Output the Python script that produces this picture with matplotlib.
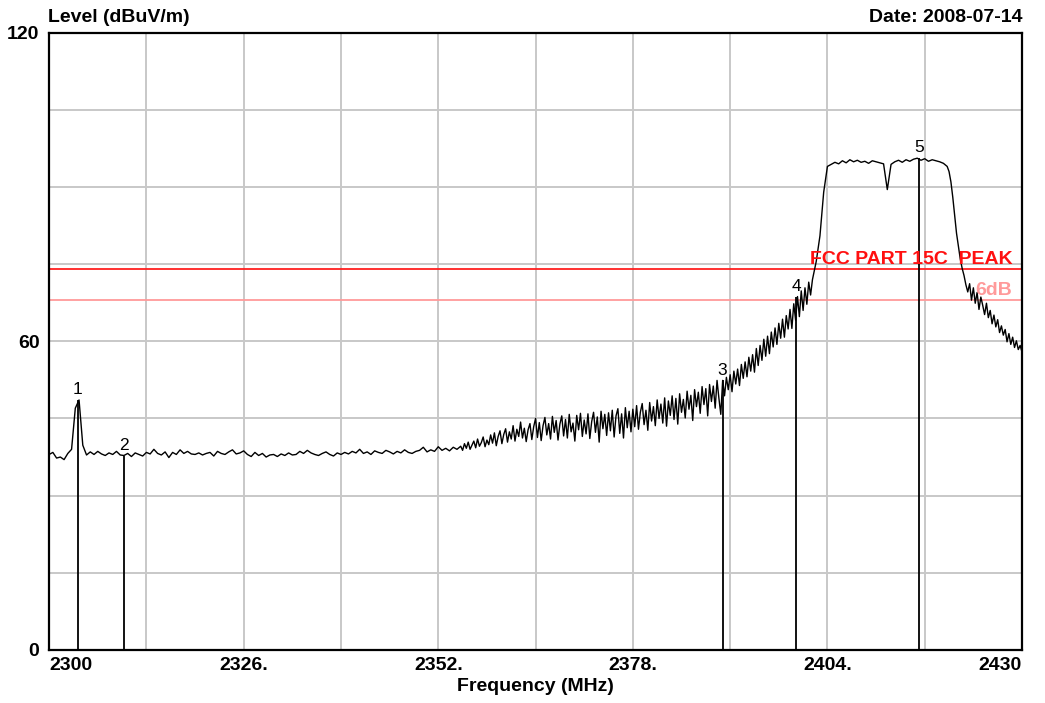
"""
Radiated emission scan 2300-2430 MHz with FCC Part 15C peak limit.
Writes out.png.
"""

import matplotlib
matplotlib.use("Agg")
import matplotlib.pyplot as plt
import numpy as np

plt.rcParams.update({"font.family": ["Liberation Sans", "DejaVu Sans"]})

# sweep levels in dBuV/m
# 2300.0 - 2354.5 MHz, 0.5 MHz steps
level_2300_2354 = [
    38.0, 38.4, 37.3, 37.5, 37.0, 38.2, 39.0, 47.0, 48.6, 39.8,
    37.9, 38.5, 38.0, 38.6, 38.1, 37.8, 38.3, 38.0, 38.6, 37.9,
    37.8, 38.2, 37.6, 38.3, 38.0, 37.7, 38.4, 38.1, 39.0, 38.2,
    37.9, 38.5, 37.4, 38.4, 38.0, 38.9, 38.2, 38.6, 38.1, 38.0,
    38.3, 37.9, 38.2, 38.4, 37.7, 38.6, 38.2, 38.0, 38.5, 38.9,
    38.1, 38.3, 38.7, 38.0, 37.6, 38.4, 37.8, 38.2, 37.5, 37.9,
    38.0, 37.6, 38.1, 37.8, 38.3, 37.9, 38.0, 38.6, 38.2, 38.8,
    38.3, 38.0, 37.8, 38.2, 38.5, 38.0, 37.7, 38.3, 38.0, 38.4,
    38.1, 38.6, 38.3, 39.0, 38.2, 38.5, 38.0, 38.7, 38.4, 38.2,
    38.8, 38.5, 38.1, 38.6, 38.3, 38.9, 38.4, 38.2, 38.6, 38.8,
    39.4, 38.5, 38.9, 38.6, 39.5, 38.8, 39.2, 38.7, 39.4, 39.0,
]
# 2355.00 - 2377.75 MHz, 0.25 MHz steps
level_2355_2377 = [
    39.6, 38.8, 40.1, 39.2, 40.4, 39.0, 39.8, 40.6, 39.3, 41.0,
    39.6, 40.3, 41.4, 39.5, 40.8, 39.9, 41.8, 40.2, 42.2, 39.7,
    41.5, 42.6, 40.1, 41.9, 43.0, 40.4, 42.4, 41.0, 43.6, 40.6,
    42.9, 41.5, 44.3, 41.2, 43.1, 40.5, 42.8, 44.0, 40.9, 43.4,
    45.0, 41.3, 44.2, 40.7, 43.6, 45.2, 41.8, 44.0, 41.0, 45.4,
    42.3, 44.6, 40.8, 43.9, 45.5, 41.6, 44.8, 41.2, 45.8, 42.4,
    44.1, 40.6, 45.6, 42.8, 46.0, 41.5, 44.7, 42.0, 45.9, 41.1,
    44.4, 46.2, 42.3, 45.3, 40.4, 46.4, 43.0, 45.8, 41.7, 46.1,
    42.6, 46.6, 41.4, 45.5, 46.9, 42.1, 45.9, 41.2, 47.1, 43.2,
    46.4, 42.4,
]
# 2378.00 - 2401.75 MHz, 0.25 MHz steps
level_2378_2401 = [
    46.8, 43.4, 47.5, 42.9, 46.2, 47.9, 43.8, 46.6, 42.7, 48.1,
    44.5, 47.3, 43.6, 48.6, 45.0, 47.8, 44.1, 49.0, 43.5, 48.4,
    45.6, 49.4, 44.8, 48.9, 43.9, 49.8, 46.2, 48.7, 45.1, 50.3,
    46.8, 49.5, 44.6, 50.6, 47.3, 50.1, 46.0, 51.2, 47.7, 50.8,
    45.5, 51.6, 48.3, 51.3, 47.0, 52.4, 48.9, 45.8, 52.4, 49.4,
    53.0, 50.6, 53.5, 50.2, 54.2, 51.7, 54.6, 51.4, 55.5, 52.8,
    56.0, 53.1, 56.9, 54.2, 57.4, 54.0, 58.6, 55.3, 59.2, 56.3,
    60.4, 57.1, 61.0, 57.6, 61.8, 58.9, 62.6, 59.4, 63.5, 60.6,
    64.3, 60.8, 65.0, 62.4, 66.2, 62.5, 67.3, 64.1, 68.7, 64.8,
    69.8, 66.0, 70.4, 67.2, 71.5, 69.0,
]
# 2402.0 - 2420.0 MHz, 0.5 MHz steps
level_2402_2420 = [
    72.0, 75.5, 80.5, 89.0, 94.0, 94.4, 94.8, 94.5, 95.1, 94.7,
    95.3, 94.9, 95.2, 94.8, 95.0, 94.6, 95.1, 94.9, 94.7, 94.5,
    89.5, 94.4, 94.9, 95.2, 94.8, 95.3, 95.0, 95.4, 95.6, 95.2,
    95.5, 95.0, 95.3, 95.1, 94.9, 94.6, 94.0,
]
# 2420.25 - 2430.00 MHz, 0.25 MHz steps
level_2420_2430 = [
    93.0, 91.0, 88.0, 84.5, 81.0, 78.5, 76.0, 74.2, 72.8, 71.0,
    69.6, 71.2, 68.0, 70.4, 67.4, 69.5, 66.2, 68.6, 67.0, 65.2,
    67.4, 64.6, 66.0, 63.4, 65.1, 62.8, 64.2, 61.7, 63.0, 61.2,
    62.3, 59.9, 61.5, 59.4, 60.8, 58.8, 60.1, 58.4, 59.2, 57.9,
]

marker_freq = [2303.8, 2310.0, 2390.0, 2399.8, 2416.2]
marker_level = [48.6, 37.7, 52.4, 68.7, 95.6]
marker_names = ["1", "2", "3", "4", "5"]

limit_peak = 74.0
limit_6db = 68.0

xtick_pos = [2300, 2326, 2352, 2378, 2404, 2430]
xtick_txt = ["2300", "2326.", "2352.", "2378.", "2404.", "2430"]
ytick_pos = [0, 60, 120]

segments = [
    (2300.0, 2354.5, level_2300_2354),
    (2355.0, 2377.75, level_2355_2377),
    (2378.0, 2401.75, level_2378_2401),
    (2402.0, 2420.0, level_2402_2420),
    (2420.25, 2430.0, level_2420_2430),
]
freq = np.concatenate([np.linspace(a, b, len(v)) for a, b, v in segments])
level = np.concatenate([v for _, _, v in segments])

fig = plt.figure(figsize=(10.45, 7.03), dpi=100)
ax = fig.add_axes([0.047, 0.0755, 0.931, 0.878])
ax.set_xlim(2300, 2430)
ax.set_ylim(0, 120)

# light grid: 13 MHz / 15 dB
for x in np.arange(2313, 2430, 13):
    ax.axvline(x, color="#c8c8c8", lw=1.4, zorder=0)
for y in np.arange(15, 120, 15):
    ax.axhline(y, color="#c8c8c8", lw=1.4, zorder=0)

ax.axhline(limit_peak, color="#ff2020", lw=1.3, zorder=1)
ax.axhline(limit_6db, color="#ff9a9a", lw=1.3, zorder=1)

ax.plot(freq, level, color="black", lw=1.0, zorder=2)

ax.vlines(marker_freq, 0, marker_level, color="black", lw=1.3, zorder=3)
for f, v, n in zip(marker_freq, marker_level, marker_names):
    ax.annotate(n, (f, v), xytext=(0, 2), textcoords="offset points",
                ha="center", va="bottom", fontsize=12.5)

ax.text(2428.7, limit_peak + 0.3, "FCC PART 15C  PEAK", color="#ff1010",
        fontsize=14, fontweight="bold", ha="right", va="bottom", zorder=4)
ax.text(2428.7, limit_6db + 0.3, "6dB", color="#ff9a9a",
        fontsize=14, fontweight="bold", ha="right", va="bottom", zorder=4)

ax.set_xticks(xtick_pos)
ax.set_xticklabels(xtick_txt, fontsize=14, fontweight="bold")
ax.set_yticks(ytick_pos)
ax.set_yticklabels([str(v) for v in ytick_pos], fontsize=14, fontweight="bold")
ax.tick_params(axis="x", length=0, pad=5)
ax.tick_params(axis="y", length=0, pad=7)
labels = ax.get_xticklabels()
labels[0].set_horizontalalignment("left")
labels[-1].set_horizontalalignment("right")

for s in ax.spines.values():
    s.set_linewidth(1.6)

ax.set_xlabel("Frequency (MHz)", fontsize=14, fontweight="bold", labelpad=3)
fig.text(0.046, 0.963, "Level (dBuV/m)", fontsize=14, fontweight="bold",
         ha="left", va="bottom")
fig.text(0.978, 0.963, "Date: 2008-07-14", fontsize=14, fontweight="bold",
         ha="right", va="bottom")

fig.savefig("out.png", dpi=100)
